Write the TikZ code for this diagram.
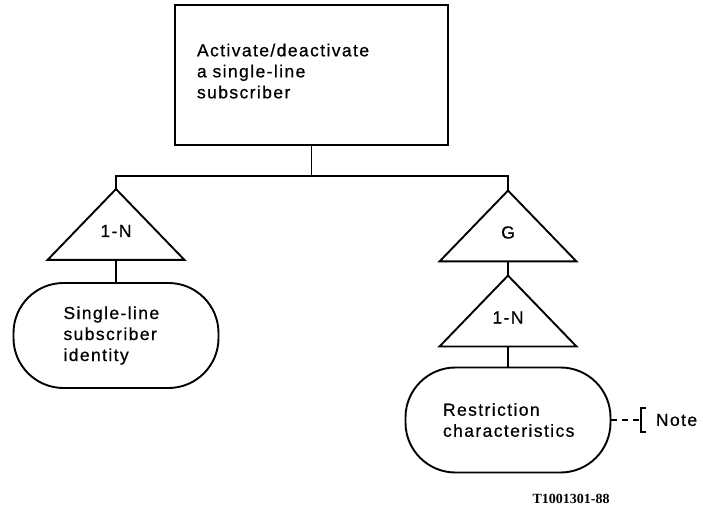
\documentclass[tikz,border=0pt]{standalone}
\usepackage{fontspec}
\setmainfont{Liberation Sans}[LetterSpace=8,FakeBold=0.6]
\newfontfamily\figfont{Liberation Serif}

\begin{document}
\begin{tikzpicture}[x=1pt,y=-1pt,line width=1.9pt,
    every node/.style={font=\fontsize{17.5}{21}\selectfont},
    gate/.style={inner sep=0pt,minimum width=135pt,minimum height=69pt,text height=25pt,text depth=0pt},
    entity/.style={draw,rounded corners=50pt,minimum width=205pt,minimum height=105pt,align=left}]
  \useasboundingbox (0,0) rectangle (703,510);
  \node[draw,minimum width=273pt,minimum height=140pt,text width=229pt,text depth=50pt,align=left] (act) at (311.5,75)
    {Activate/deactivate\\a single-line\\subscriber};
  \node[gate] (rep1) at (116,224.5) {1-N};
  \node[gate] (grp) at (508,226) {G};
  \node[gate] (rep2) at (508,311) {1-N};
  \node[entity,text width=105pt] (ident) at (116,335.5) {Single-line\\subscriber\\identity};
  \node[entity,text width=130pt] (restr) at (508,420) {Restriction\\characteristics};
  \node[anchor=west,inner sep=0pt] (note) at (655,420) {Note};
  \coordinate (brk) at (641,420);
  \node[font=\figfont\bfseries\fontsize{14}{16}\selectfont] (fig) at (571,499) {T1001301-88};
  \foreach \t in {rep1,grp,rep2}
    \draw (\t.north) -- (\t.south east) -- (\t.south west) -- cycle;
  \draw (act.south) -- ++(0,30) coordinate (split);
  \draw (split) -| (rep1.north);
  \draw (split) -| (grp.north);
  \draw (rep1.south) -- (ident.north);
  \draw (grp.south) -- (rep2.north);
  \draw (rep2.south) -- (restr.north);
  \draw[dash pattern=on 6pt off 5pt] (restr.east) -- (brk);
  \draw ([xshift=5pt,yshift=12pt]brk) -- ([yshift=12pt]brk) -- ([yshift=-12pt]brk) -- ([xshift=5pt,yshift=-12pt]brk);
\end{tikzpicture}
\end{document}
